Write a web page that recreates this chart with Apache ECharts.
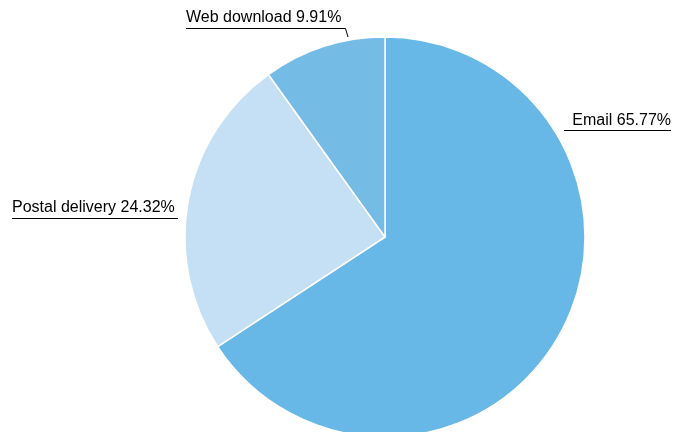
<!DOCTYPE html>
<html>
<head>
<meta charset="utf-8">
<script src="https://cdn.jsdelivr.net/npm/echarts@6/dist/echarts.min.js"></script>
<style>
  html, body { margin: 0; padding: 0; background: #ffffff; }
  #chart { width: 680px; height: 432px; }
</style>
</head>
<body>
<div id="chart"></div>
<script>
// Delivery channel shares, in percent
const categories = ['Email', 'Postal delivery', 'Web download'];
const shares = [65.77, 24.32, 9.91];
const colors = ['#67b8e6', '#c5dff4', '#74bbe6'];

// Where each label sits and how its leader line runs
const labelSpots = [
  { x: 671, y: 129, align: 'right', line: [[564, 130.5], [564, 130.5], [671, 130.5]] },
  { x: 12, y: 216, align: 'left', line: [[178, 218.5], [178, 218.5], [12, 218.5]] },
  { x: 186, y: 26, align: 'left', line: [[348, 37], [345.5, 28.5], [186, 28.5]] }
];

const chart = echarts.init(document.getElementById('chart'), null, { renderer: 'canvas' });

chart.setOption({
  animation: false,
  series: [{
    type: 'pie',
    center: [385, 237],
    radius: 200,
    startAngle: 90,
    clockwise: true,
    data: categories.map((name, i) => ({
      name,
      value: shares[i],
      itemStyle: { color: colors[i] }
    })),
    itemStyle: { borderColor: '#ffffff', borderWidth: 1.5 },
    label: {
      show: true,
      overflow: 'none',
      formatter: p => p.name + ' ' + p.value.toFixed(2) + '%',
      color: '#000000',
      fontFamily: 'Liberation Sans, Arial, sans-serif',
      fontSize: 16
    },
    labelLine: {
      show: true,
      lineStyle: { color: '#000000', width: 1 }
    },
    labelLayout: params => {
      const s = labelSpots[params.dataIndex];
      return {
        x: s.x,
        y: s.y,
        align: s.align,
        verticalAlign: 'bottom',
        labelLinePoints: s.line
      };
    },
    emphasis: { disabled: true }
  }]
});
</script>
</body>
</html>
